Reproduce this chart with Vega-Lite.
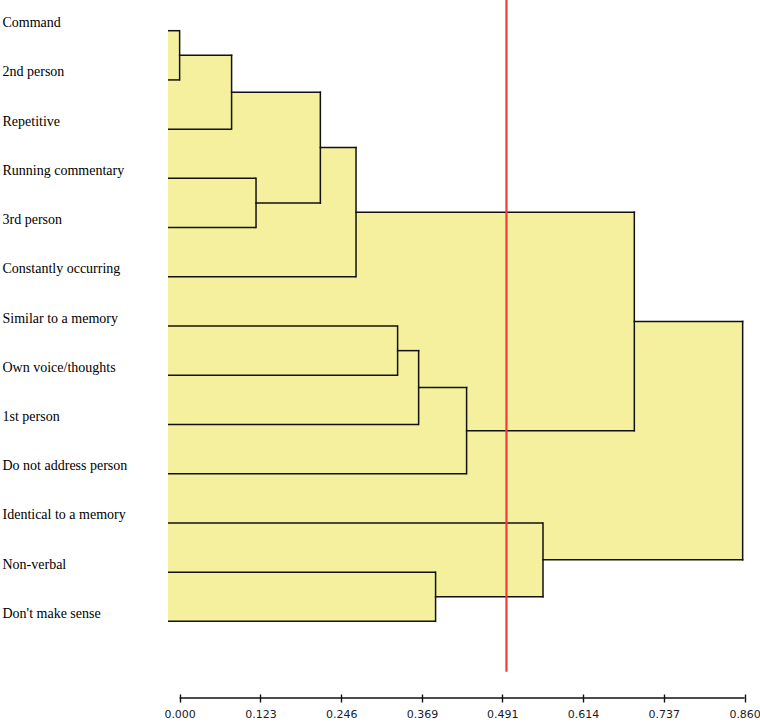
{
  "$schema": "https://vega.github.io/schema/vega-lite/v6.json",
  "width": 592,
  "height": 698,
  "autosize": {"type": "none"},
  "padding": {"left": 168, "top": 0, "right": 0, "bottom": 24},
  "background": "white",
  "config": {"view": {"stroke": null}},
  "datasets": {
    "leaves": [
      {"name": "Command", "order": 0, "ph": 0.0},
      {"name": "2nd person", "order": 1, "ph": 0.0},
      {"name": "Repetitive", "order": 2, "ph": 0.0791},
      {"name": "Running commentary", "order": 3, "ph": 0.1163},
      {"name": "3rd person", "order": 4, "ph": 0.1163},
      {"name": "Constantly occurring", "order": 5, "ph": 0.2685},
      {"name": "Similar to a memory", "order": 6, "ph": 0.3318},
      {"name": "Own voice/thoughts", "order": 7, "ph": 0.3318},
      {"name": "1st person", "order": 8, "ph": 0.3638},
      {"name": "Do not address person", "order": 9, "ph": 0.4368},
      {"name": "Identical to a memory", "order": 10, "ph": 0.5531},
      {"name": "Non-verbal", "order": 11, "ph": 0.3896},
      {"name": "Don't make sense", "order": 12, "ph": 0.3896}
    ],
    "clusters": [
      {"id": "C1", "h": 0.0, "lo": 0, "hi": 1, "pos": 0.5, "ph": 0.0791},
      {"id": "C2", "h": 0.0791, "lo": 0.5, "hi": 2, "pos": 1.25, "ph": 0.2142},
      {"id": "C3", "h": 0.1163, "lo": 3, "hi": 4, "pos": 3.5, "ph": 0.2142},
      {"id": "C4", "h": 0.2142, "lo": 1.25, "hi": 3.5, "pos": 2.375, "ph": 0.2685},
      {"id": "C5", "h": 0.2685, "lo": 2.375, "hi": 5, "pos": 3.6875, "ph": 0.6921},
      {"id": "C6", "h": 0.3318, "lo": 6, "hi": 7, "pos": 6.5, "ph": 0.3638},
      {"id": "C7", "h": 0.3638, "lo": 6.5, "hi": 8, "pos": 7.25, "ph": 0.4368},
      {"id": "C8", "h": 0.4368, "lo": 7.25, "hi": 9, "pos": 8.125, "ph": 0.6921},
      {"id": "C9", "h": 0.6921, "lo": 3.6875, "hi": 8.125, "pos": 5.906, "ph": 0.857},
      {"id": "C10", "h": 0.3896, "lo": 11, "hi": 12, "pos": 11.5, "ph": 0.5531},
      {"id": "C11", "h": 0.5531, "lo": 10, "hi": 11.5, "pos": 10.75, "ph": 0.857},
      {"id": "C12", "h": 0.857, "lo": 5.906, "hi": 10.75, "pos": 8.328, "ph": null}
    ]
  },
  "layer": [
    {
      "data": {"name": "clusters"},
      "mark": {"type": "rect", "fill": "#F5F09E"},
      "encoding": {
        "x": {
          "field": "h", "type": "quantitative", "title": null,
          "scale": {"domain": [-0.0177, 0.8834], "nice": false, "zero": false},
          "axis": {
            "title": null, "domain": false, "grid": false,
            "values": [0, 0.123, 0.246, 0.369, 0.491, 0.614, 0.737, 0.86],
            "format": ".3f", "offset": -4, "tickSize": 8, "tickColor": "#111", "tickWidth": 1.4,
            "labelFont": "DejaVu Sans", "labelFontSize": 11, "labelColor": "#1a1a2a",
            "labelPadding": 6, "labelFlush": false, "labelOverlap": false
          }
        },
        "x2": {"datum": -0.0177},
        "y": {
          "field": "lo", "type": "quantitative", "title": null,
          "scale": {"domain": [-0.6237, 13.557], "nice": false, "zero": false, "reverse": true},
          "axis": {
            "title": null, "domain": false, "grid": false, "ticks": false,
            "values": [0,1,2,3,4,5,6,7,8,9,10,11,12],
            "labelExpr": "[\"Command\",\"2nd person\",\"Repetitive\",\"Running commentary\",\"3rd person\",\"Constantly occurring\",\"Similar to a memory\",\"Own voice/thoughts\",\"1st person\",\"Do not address person\",\"Identical to a memory\",\"Non-verbal\",\"Don't make sense\"][datum.value]",
            "labelAlign": "left", "labelBaseline": "alphabetic", "labelPadding": 166, "labelOffset": -4,
            "labelFont": "Liberation Serif", "labelFontSize": 14, "labelColor": "#000",
            "labelFlush": false, "labelOverlap": false, "labelBound": false
          }
        },
        "y2": {"field": "hi"}
      }
    },
    {
      "data": {"name": "clusters"},
      "mark": {"type": "rule", "stroke": "#111", "strokeWidth": 1.5, "strokeCap": "square"},
      "encoding": {
        "x": {"field": "h", "type": "quantitative"},
        "y": {"field": "lo", "type": "quantitative"},
        "y2": {"field": "hi"}
      }
    },
    {
      "data": {"name": "clusters"},
      "transform": [{"filter": "datum.ph != null"}],
      "mark": {"type": "rule", "stroke": "#111", "strokeWidth": 1.5, "strokeCap": "square"},
      "encoding": {
        "x": {"field": "h", "type": "quantitative"},
        "x2": {"field": "ph"},
        "y": {"field": "pos", "type": "quantitative"}
      }
    },
    {
      "data": {"name": "leaves"},
      "mark": {"type": "rule", "stroke": "#111", "strokeWidth": 1.5},
      "encoding": {
        "x": {"field": "ph", "type": "quantitative"},
        "x2": {"datum": -0.0177},
        "y": {"field": "order", "type": "quantitative"}
      }
    },
    {
      "data": {"values": [{"cut": 0.4975}]},
      "mark": {"type": "rule", "stroke": "#EE3B3B", "strokeWidth": 2.2},
      "encoding": {
        "x": {"field": "cut", "type": "quantitative"},
        "y": {"datum": 13.023, "type": "quantitative"},
        "y2": {"datum": -0.6237}
      }
    },
    {
      "data": {"values": [{"lo": 0, "hi": 0.86}]},
      "mark": {"type": "rule", "stroke": "#111", "strokeWidth": 1.5},
      "encoding": {
        "x": {"field": "lo", "type": "quantitative"},
        "x2": {"field": "hi"},
        "y": {"datum": 13.557, "type": "quantitative"}
      }
    }
  ]
}
